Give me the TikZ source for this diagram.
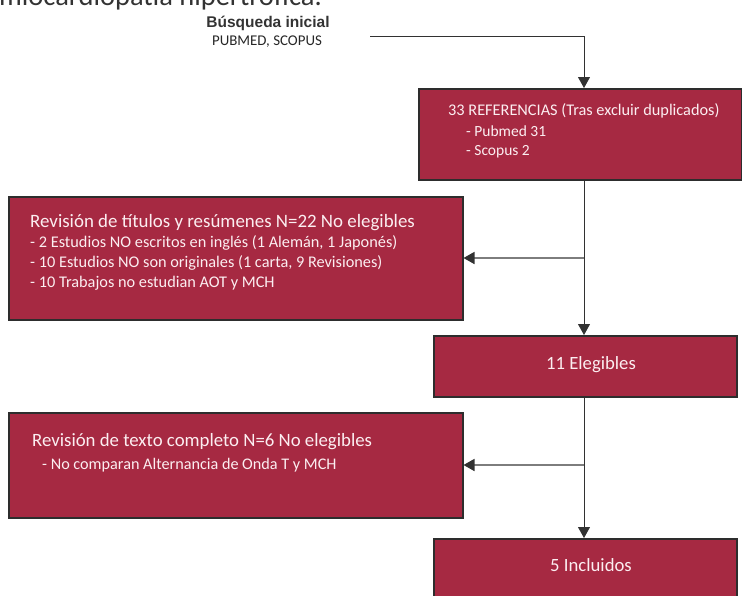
\documentclass[tikz,border=0pt]{standalone}
\usepackage{fontspec}
\setmainfont{Carlito}
\newfontfamily\arialfont{Liberation Sans}
\usetikzlibrary{arrows.meta,calc}
\definecolor{boxred}{RGB}{166,41,66}
\definecolor{boxline}{RGB}{45,45,45}
\definecolor{txtpale}{RGB}{252,238,241}
\definecolor{conngray}{RGB}{50,50,50}
\definecolor{branchgray}{RGB}{125,125,125}
\newcommand{\fs}[1]{\fontsize{#1}{#1}\selectfont}
\begin{document}
\begin{tikzpicture}[x=1pt,y=-1pt,
  box/.style={draw=boxline, line width=1.5pt, fill=boxred, anchor=north west, inner sep=0pt},
  txt/.style={text=txtpale, inner sep=0pt, anchor=base west},
  conn/.style={draw=conngray, line width=0.9pt, -{Triangle[width=12pt,length=11pt]}},
  branch/.style={draw=branchgray, line width=1.6pt, -{Triangle[width=12pt,length=11pt,color=conngray]}},
  plain/.style={draw=conngray, line width=0.9pt}]
\useasboundingbox (0,0) rectangle (742,595);
\clip (0,0) rectangle (742,595);
% clipped caption at top
\node[inner sep=0pt, anchor=base east, font=\fs{28.5}, text=black!80] (cap) at (322,5) {miocardiopatía hipertrófica.};
% search header
\node[inner sep=0pt, anchor=base, font=\arialfont\bfseries\fs{15.5}, text=black!80] (busq) at (268,27) {Búsqueda inicial};
\node[inner sep=0pt, anchor=base, font=\fs{14.9}, text=black!85] (pub) at (267,45) {PUBMED, SCOPUS};
% boxes
\node[box, minimum width=323pt, minimum height=91pt] (b1) at (418,88) {};
\node[box, minimum width=454pt, minimum height=123pt] (b2) at (8,196) {};
\node[box, minimum width=303pt, minimum height=61pt] (b3) at (433,335) {};
\node[box, minimum width=454pt, minimum height=105pt] (b4) at (8,412) {};
\node[box, minimum width=303pt, minimum height=80pt] (b5) at (433,538) {};
% box texts
\node[txt, font=\fs{16.3}] (t1a) at (448,115) {33 REFERENCIAS (Tras excluir duplicados)};
\node[txt, font=\fs{15.5}] (t1b) at (466,136) {- Pubmed 31};
\node[txt, font=\fs{15.5}] (t1c) at (466,155) {- Scopus 2};
\node[txt, font=\fs{18.9}] (t2a) at (30,227) {Revisión de títulos y resúmenes N=22 No elegibles};
\node[txt, font=\fs{16.3}] (t2b) at (30,247) {- 2 Estudios NO escritos en inglés (1 Alemán, 1 Japonés)};
\node[txt, font=\fs{16.3}] (t2c) at (30,267) {- 10 Estudios NO son originales (1 carta, 9 Revisiones)};
\node[txt, font=\fs{16.3}] (t2d) at (30,287) {- 10 Trabajos no estudian AOT y MCH};
\node[txt, font=\fs{18.7}, anchor=base] (t3) at (591,369) {11 Elegibles};
\node[txt, font=\fs{18.8}] (t4a) at (32,446) {Revisión de texto completo N=6 No elegibles};
\node[txt, font=\fs{16.2}] (t4b) at (42,469) {- No comparan Alternancia de Onda T y MCH};
\node[txt, font=\fs{18.7}, anchor=base] (t5) at (591,571) {5 Incluidos};
% connectors
\coordinate (start) at (370,36);
\coordinate (tr) at (584,36);
\coordinate (j1) at (584,258);
\coordinate (j2) at (584,465);
\draw[conn] (start) -- (tr) -- (tr |- b1.north);
\draw[conn] (tr |- b1.south) -- (tr |- b3.north);
\draw[conn] (tr |- b3.south) -- (tr |- b5.north);
\draw[branch] (j1) -- (j1 -| b2.east);
\draw[branch] (j2) -- (j2 -| b4.east);
\end{tikzpicture}
\end{document}
